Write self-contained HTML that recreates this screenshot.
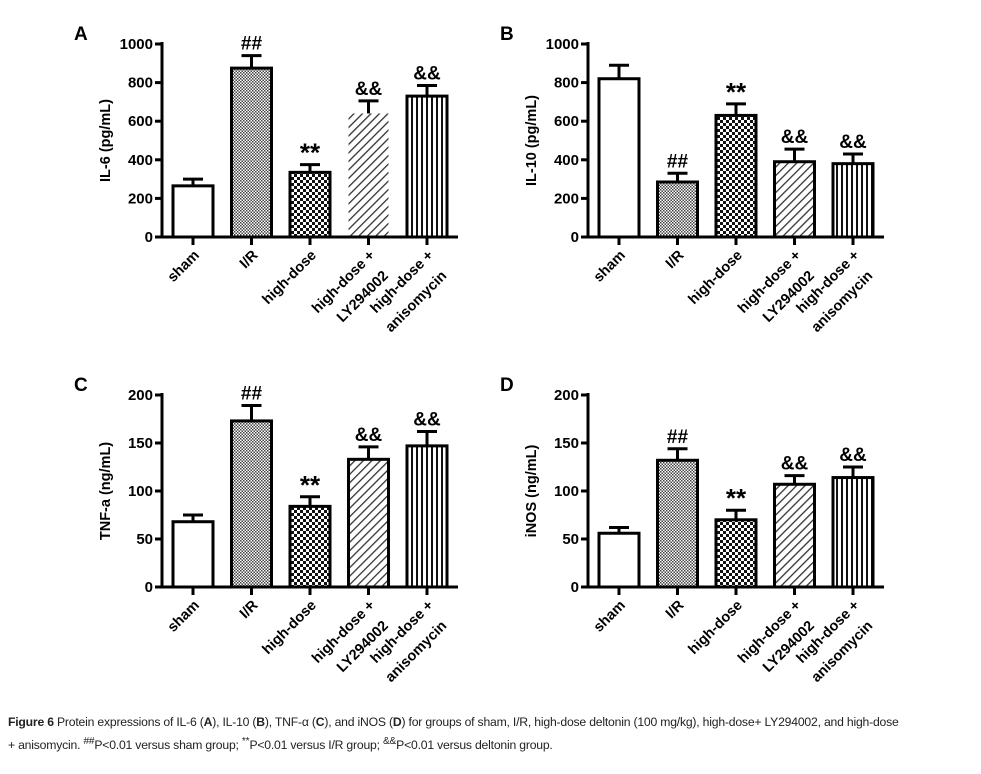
<!DOCTYPE html>
<html><head><meta charset="utf-8"><style>
body{margin:0;background:#fff;width:981px;height:774px;overflow:hidden;font-family:"Liberation Sans",Arial,sans-serif}
#cap{position:absolute;left:8px;top:712px;font-size:12.2px;color:#222;line-height:20px;width:975px;white-space:nowrap;font-family:"Liberation Sans",sans-serif;letter-spacing:-0.2px}
</style></head><body>
<svg id="fig" width="981" height="774" style="position:absolute;left:0;top:0">
<defs>
<pattern id="pIR" width="3" height="3" patternUnits="userSpaceOnUse"><rect width="3" height="3" fill="#fff"/><rect width="1.5" height="1.5" fill="#444"/><rect x="1.5" y="1.5" width="1.5" height="1.5" fill="#444"/></pattern>
<pattern id="pHD" width="6" height="6" patternUnits="userSpaceOnUse"><rect width="6" height="6" fill="#fff"/><rect width="3" height="3" fill="#111"/><rect x="3" y="3" width="3" height="3" fill="#111"/></pattern>
<pattern id="pLY" width="6" height="6" patternUnits="userSpaceOnUse" patternTransform="rotate(45)"><rect width="6" height="6" fill="#fff"/><rect width="1.3" height="6" fill="#333"/></pattern>
<pattern id="pAN" width="5" height="5" patternUnits="userSpaceOnUse"><rect width="5" height="5" fill="#fff"/><rect x="1" width="2" height="5" fill="#111"/></pattern>
</defs>
</svg>
<div id="cap"><b>Figure 6</b> Protein expressions of IL-6 (<b>A</b>), IL-10 (<b>B</b>), TNF-α (<b>C</b>), and iNOS (<b>D</b>) for groups of sham, I/R, high-dose deltonin (100 mg/kg), high-dose+ LY294002, and high-dose<br>+ anisomycin. <sup>##</sup>P&lt;0.01 versus sham group; <sup>**</sup>P&lt;0.01 versus I/R group; <sup>&amp;&amp;</sup>P&lt;0.01 versus deltonin group.</div>
<script>
const categories=["sham","I/R","high-dose","high-dose +|LY294002","high-dose +|anisomycin"];
const valuesA=[265,875,335,640,730];
const errorsA=[35,65,40,65,55];
const valuesB=[820,285,630,390,380];
const errorsB=[70,45,60,65,50];
const valuesC=[68,173,84,133,147];
const errorsC=[7,16,10,13,15];
const valuesD=[56,132,70,107,114];
const errorsD=[6,12,10,9,11];
const ticksAB=[0,200,400,600,800,1000];
const ticksCD=[0,50,100,150,200];
const marksA=["","##","**","&&","&&"];
const marksB=["","##","**","&&","&&"];
const marksC=["","##","**","&&","&&"];
const marksD=["","##","**","&&","&&"];
const fills=["#fff","url(#pIR)","url(#pHD)","url(#pLY)","url(#pAN)"];
const NS="http://www.w3.org/2000/svg";
const svg=document.getElementById('fig');
function el(t,a,p){const e=document.createElementNS(NS,t);for(const k in a)e.setAttribute(k,a[k]);(p||svg).appendChild(e);return e;}
function panel(letter,ax,y0,ytop,ymax,ticks,vals,errs,marks,title,noBorderLY){
  const g=el('g',{});
  
  
  const ys=v=>y0-(v/ymax)*(y0-ytop);
  const xs=i=>ax+31+i*58.5;
  const L=el('text',{x:ax-88,y:ytop-4,'font-size':19,'font-weight':'bold'},g);L.textContent=letter;
  
  
  const t=el('text',{transform:`translate(${ax-52},${(y0+ytop)/2}) rotate(-90)`,'text-anchor':'middle','font-size':14.5,'font-weight':'bold'},g);t.textContent=title;
  
  
  vals.forEach((v,i)=>{
    const cx=xs(i),w=40,top=ys(v),et=ys(v+errs[i]);
    el('line',{x1:cx,x2:cx,y1:top,y2:et,stroke:'#000','stroke-width':3},g);
    el('line',{x1:cx-10,x2:cx+10,y1:et,y2:et,stroke:'#000','stroke-width':3},g);
    const b=el('rect',{x:cx-w/2,y:top,width:w,height:y0-top,fill:fills[i],stroke:(noBorderLY&&i==3)?'none':'#000','stroke-width':(noBorderLY&&i==3)?0:3},g);
    
    
    if(marks[i]){const m=el('text',{x:cx,y:et-(marks[i]=='**'?3:6),'text-anchor':'middle','font-size':marks[i]=='**'?26:19,'font-weight':'bold'},g);m.textContent=marks[i];
      
      }
    el('line',{x1:cx,x2:cx,y1:y0,y2:y0+8,stroke:'#000','stroke-width':3},g);
    const parts=categories[i].split('|');
    const lt=el('text',{transform:`translate(${cx+7},${y0+19}) rotate(-45)`,'text-anchor':'end','font-size':14.5,'font-weight':'bold'},g);
    
    
    parts.forEach((p,j)=>{const s=el('tspan',{x:j?-5:0,dy:j?24:0},lt);s.textContent=p;});
  });
  el('line',{x1:ax,x2:ax,y1:ytop-2,y2:y0+1.5,stroke:'#000','stroke-width':3},g);
  el('line',{x1:ax-1.5,x2:ax+296,y1:y0,y2:y0,stroke:'#000','stroke-width':3},g);
  ticks.forEach(tv=>{const y=ys(tv);el('line',{x1:ax-7,x2:ax,y1:y,y2:y,stroke:'#000','stroke-width':3},g);
    const tt=el('text',{x:ax-9,y:y+5,'text-anchor':'end','font-size':15,'font-weight':'bold'},g);tt.textContent=tv;
    
    });
}
panel('A',162,237,44,1000,ticksAB,valuesA,errorsA,marksA,'IL-6 (pg/mL)',true);
panel('B',588,237,44,1000,ticksAB,valuesB,errorsB,marksB,'IL-10 (pg/mL)',false);
panel('C',162,587,395,200,ticksCD,valuesC,errorsC,marksC,'TNF-a (ng/mL)',false);
panel('D',588,587,395,200,ticksCD,valuesD,errorsD,marksD,'iNOS (ng/mL)',false);
</script>
</body></html>
